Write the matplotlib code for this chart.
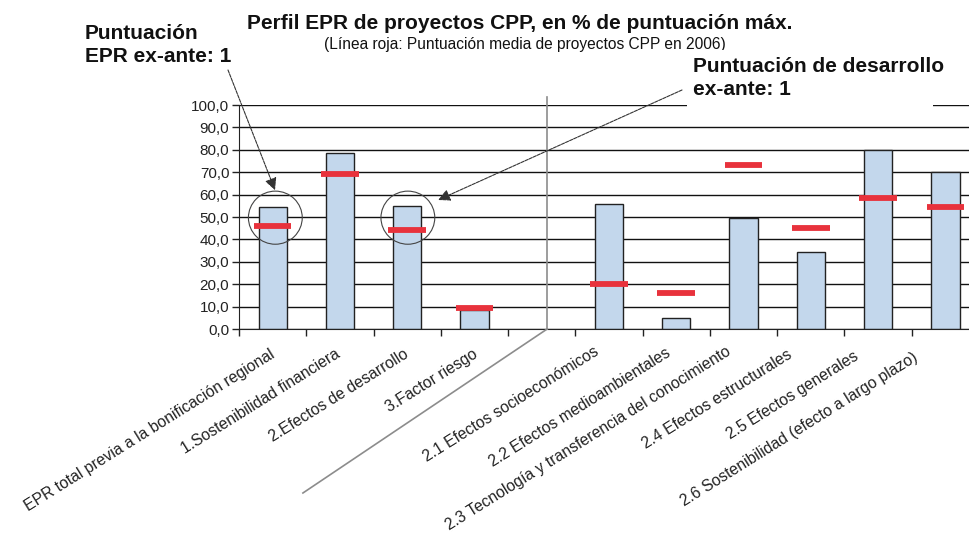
import matplotlib.pyplot as plt
import matplotlib.patches as mpatches
import matplotlib.transforms as mtransforms
import numpy as np

plt.rcParams['font.family'] = ['Liberation Sans', 'DejaVu Sans']

# Categories (one empty slot separates the two groups)
categories = [
    "EPR total previa a la bonificación regional",
    "1.Sostenibilidad financiera",
    "2.Efectos de desarrollo",
    "3.Factor riesgo",
    "",
    "2.1 Efectos socioeconómicos",
    "2.2 Efectos medioambientales",
    "2.3 Tecnología y transferencia del conocimiento",
    "2.4 Efectos estructurales",
    "2.5 Efectos generales",
    "2.6 Sostenibilidad (efecto a largo plazo)",
]
# Project score (% of max) and 2006 average (red line)
scores = [54.5, 78.7, 54.8, 8.7, np.nan, 55.9, 4.7, 49.5, 34.6, 79.8, 70.0]
avg_2006 = [45.8, 69.2, 44.0, 9.4, np.nan, 20.0, 16.2, 73.2, 45.2, 58.5, 54.3]
yticks = np.arange(0, 101, 10)

# label nudges in pixels (the original labels drift left on the right group)
label_dx = [-3, -5, -4, -2, 0, -16, -11, -18, -24, -25, -33]
label_dy = [-2, -2, -2, -2, 0, 0, -1, 0, -3, -4, -6]

fig = plt.figure(figsize=(9.7, 5.33), dpi=100)
ax = fig.add_axes([0.2464, 0.3827, 0.7629, 0.4203])

x = np.arange(len(categories))
ax.set_xlim(-0.5, len(categories) - 0.5)
ax.set_ylim(0, 100)

# gridlines
for yv in yticks:
    ax.axhline(yv, color='#111111', lw=1.0, zorder=1)

ax.bar(x, scores, width=0.42, color='#c3d7ec', edgecolor='#222222',
       linewidth=1.0, zorder=2)
ax.hlines(avg_2006, x - 0.28, x + 0.28, colors='#e8323c', linewidth=4.2,
          zorder=3)

# axes styling
for s in ['top', 'right']:
    ax.spines[s].set_visible(False)
ax.spines['left'].set_color('#222222')
ax.spines['bottom'].set_color('#222222')
ax.set_yticks(yticks)
ax.set_yticklabels([f"{v:.1f}".replace('.', ',') for v in yticks],
                   fontsize=11, color='#222222')
ax.tick_params(axis='y', length=5, width=1, color='#222222', pad=2)
ax.set_xticks(np.arange(-0.5, len(categories), 1.0), minor=True)
ax.set_xticks(x)
ax.set_xticklabels(categories, rotation=32, ha='right',
                   rotation_mode='anchor', fontsize=11.3, color='#222222')
ax.tick_params(axis='x', which='major', length=0, pad=11)
ax.tick_params(axis='x', which='minor', length=5, width=1, color='#222222')
for lbl, dx, dy in zip(ax.get_xticklabels(), label_dx, label_dy):
    off = mtransforms.ScaledTranslation(dx / 100, dy / 100, fig.dpi_scale_trans)
    lbl.set_transform(lbl.get_transform() + off)

# separator between groups
ax.plot([4.08, 4.08], [0, 103.5], color='#8c8c8c', lw=1.2, clip_on=False,
        zorder=4)
ax.plot([4.08, 0.45], [0, -73.2], color='#8c8c8c', lw=1.2, clip_on=False,
        zorder=4)

# circles around highlighted bars
for cx in [0.04, 2.01]:
    ax.add_patch(mpatches.Ellipse((cx, 49.7), 0.80, 23.7, fill=False,
                                  edgecolor='#444444', lw=0.8, zorder=5))

# titles
fig.text(247 / 970, 1 - 14 / 533, "Perfil EPR de proyectos CPP, en % de puntuación máx.",
         ha='left', va='top', fontsize=15, fontweight='bold', color='#111111')
fig.text(0.541, 1 - 44 / 533, "(Línea roja: Puntuación media de proyectos CPP en 2006)",
         ha='center', va='center', fontsize=11.2, color='#111111')

# annotations
fig.text(85 / 970, 1 - 39 / 533, "Puntuación", ha='left', va='baseline',
         fontsize=15, fontweight='bold', color='#111111')
fig.text(85 / 970, 1 - 62 / 533, "EPR ex-ante: 1", ha='left', va='baseline',
         fontsize=15, fontweight='bold', color='#111111')
fig.patches.append(mpatches.Rectangle((687 / 970, 1 - 107 / 533), 246 / 970, 57 / 533,
                                      transform=fig.transFigure, facecolor='white',
                                      edgecolor='none', zorder=6))
fig.text(693 / 970, 1 - 72 / 533, "Puntuación de desarrollo", ha='left',
         va='baseline', fontsize=15, fontweight='bold', color='#111111', zorder=7)
fig.text(693 / 970, 1 - 95 / 533, "ex-ante: 1", ha='left',
         va='baseline', fontsize=15, fontweight='bold', color='#111111', zorder=7)

arrowprops = dict(arrowstyle='-|>', color='#333333', lw=0.8, linestyle=(0, (3, 1)),
                  mutation_scale=18, shrinkA=0, shrinkB=0)
ax.annotate("", xy=(0.035, 62), xycoords='data',
            xytext=(228 / 970, 1 - 70 / 533), textcoords='figure fraction',
            arrowprops=arrowprops, zorder=6)
ax.annotate("", xy=(2.46, 57.6), xycoords='data',
            xytext=(682 / 970, 1 - 90 / 533), textcoords='figure fraction',
            arrowprops=arrowprops, zorder=6)

fig.savefig("out.png", dpi=100)
